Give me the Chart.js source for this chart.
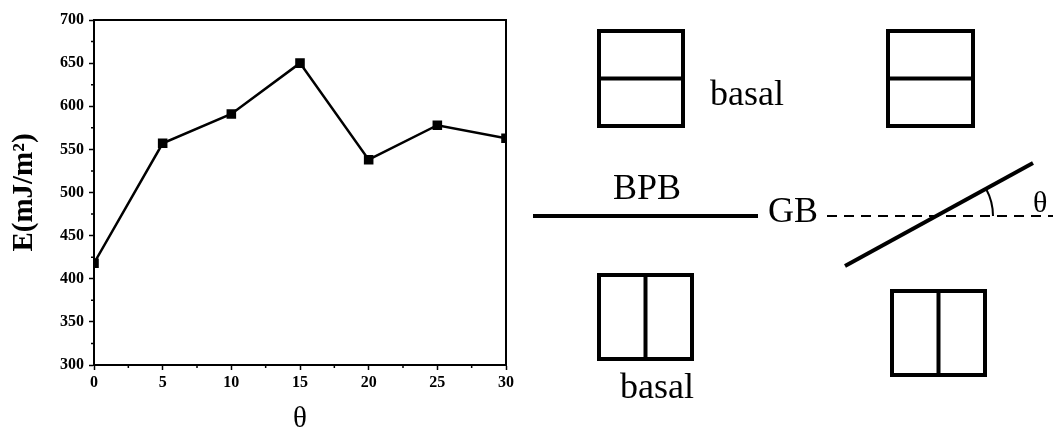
<!DOCTYPE html>
<html>
<head>
<meta charset="utf-8">
<script src="https://cdn.jsdelivr.net/npm/chart.js@4"></script>
<style>
  html, body { margin: 0; padding: 0; background: #fff; }
  #wrap { width: 1053px; height: 428px; }
</style>
</head>
<body>
<div id="wrap"><canvas id="myChart" width="1053" height="428"></canvas></div>
<script>
// misorientation angle (deg) and boundary energy
var thetaValues = [0, 5, 10, 15, 20, 25, 30];
var energyValues = [418, 557, 591, 650, 538, 578, 563];
var xTickLabels = [0, 5, 10, 15, 20, 25, 30];
var yTickLabels = [300, 350, 400, 450, 500, 550, 600, 650, 700];

var serif = '"Liberation Serif", "Times New Roman", serif';

// plot frame, short minor ticks, and the BPB / GB sketch on the right
var sketch = {
  id: 'sketch',
  afterDraw: function(chart) {
    var ctx = chart.ctx, a = chart.chartArea;
    var xs = chart.scales.x, ys = chart.scales.y;
    ctx.save();
    ctx.strokeStyle = '#000';
    ctx.lineWidth = 2;
    ctx.strokeRect(a.left, a.top, a.right - a.left, a.bottom - a.top);

    // minor ticks halfway between labelled ones
    ctx.lineWidth = 1.5;
    ctx.beginPath();
    for (var i = 0; i < xTickLabels.length - 1; i++) {
      var px = xs.getPixelForValue((xTickLabels[i] + xTickLabels[i + 1]) / 2);
      ctx.moveTo(px, a.bottom); ctx.lineTo(px, a.bottom + 3);
    }
    for (var j = 0; j < yTickLabels.length - 1; j++) {
      var py = ys.getPixelForValue((yTickLabels[j] + yTickLabels[j + 1]) / 2);
      ctx.moveTo(a.left, py); ctx.lineTo(a.left - 3, py);
    }
    ctx.stroke();

    function box(x1, y1, x2, y2, split) {
      ctx.lineWidth = 4;
      ctx.strokeRect(x1, y1, x2 - x1, y2 - y1);
      ctx.beginPath();
      if (split === 'h') { var my = (y1 + y2) / 2; ctx.moveTo(x1, my); ctx.lineTo(x2, my); }
      else { var mx = (x1 + x2) / 2; ctx.moveTo(mx, y1); ctx.lineTo(mx, y2); }
      ctx.stroke();
    }
    box(599, 31, 683, 126, 'h');
    box(888, 31, 973, 126, 'h');
    box(599, 275, 692, 359, 'v');
    box(892, 291, 985, 375, 'v');

    ctx.lineWidth = 4;
    ctx.beginPath(); ctx.moveTo(533, 216); ctx.lineTo(758, 216); ctx.stroke();
    ctx.beginPath(); ctx.moveTo(845, 266); ctx.lineTo(1033, 163); ctx.stroke();

    ctx.lineWidth = 2;
    ctx.setLineDash([10, 7]);
    ctx.beginPath(); ctx.moveTo(827, 216); ctx.lineTo(1053, 216); ctx.stroke();
    ctx.setLineDash([]);
    ctx.beginPath(); ctx.arc(936, 216, 57, -0.5, 0); ctx.stroke();

    ctx.fillStyle = '#000';
    ctx.textAlign = 'left';
    ctx.textBaseline = 'alphabetic';
    ctx.font = '36px ' + serif;
    ctx.fillText('basal', 710, 105);
    ctx.fillText('BPB', 613, 199);
    ctx.fillText('GB', 768, 222);
    ctx.fillText('basal', 620, 398);
    ctx.font = '30px ' + serif;
    ctx.fillText('θ', 1033, 212);
    ctx.restore();
  }
};

var ctx = document.getElementById('myChart').getContext('2d');
var chart = new Chart(ctx, {
  type: 'line',
  data: {
    datasets: [{
      data: thetaValues.map(function(t, i) { return { x: t, y: energyValues[i] }; }),
      borderColor: '#000',
      backgroundColor: '#000',
      borderWidth: 2.5,
      pointStyle: 'rect',
      pointRadius: 5,
      pointHoverRadius: 5,
      tension: 0
    }]
  },
  options: {
    responsive: false,
    animation: false,
    events: [],
    layout: { padding: { top: 20, right: 547, left: 0, bottom: 0 } },
    plugins: { legend: { display: false }, tooltip: { enabled: false } },
    scales: {
      x: {
        type: 'linear',
        min: xTickLabels[0],
        max: xTickLabels[xTickLabels.length - 1],
        afterFit: function(s) { s.height = 63; },
        border: { color: '#000', width: 2 },
        grid: { drawOnChartArea: false, tickLength: 5, tickColor: '#000', tickWidth: 1.5 },
        ticks: {
          stepSize: 5,
          autoSkip: false,
          maxRotation: 0,
          padding: 3,
          color: '#000',
          font: { family: serif, size: 16, weight: 'bold' }
        },
        title: {
          display: true,
          text: 'θ',
          color: '#000',
          font: { family: serif, size: 29, lineHeight: 0.6 },
          padding: { top: 0, bottom: 0 }
        }
      },
      y: {
        min: yTickLabels[0],
        max: yTickLabels[yTickLabels.length - 1],
        afterFit: function(s) { s.width = 94; },
        border: { color: '#000', width: 2 },
        grid: { drawOnChartArea: false, tickLength: 5, tickColor: '#000', tickWidth: 1.5 },
        ticks: {
          stepSize: 50,
          autoSkip: false,
          padding: 5,
          color: '#000',
          font: { family: serif, size: 16, weight: 'bold' }
        },
        title: {
          display: true,
          text: 'E(mJ/m²)',
          color: '#000',
          font: { family: serif, size: 29, weight: 'bold', lineHeight: 1.2 },
          padding: { top: 7, bottom: 0 }
        }
      }
    }
  },
  plugins: [sketch]
});
</script>
</body>
</html>
